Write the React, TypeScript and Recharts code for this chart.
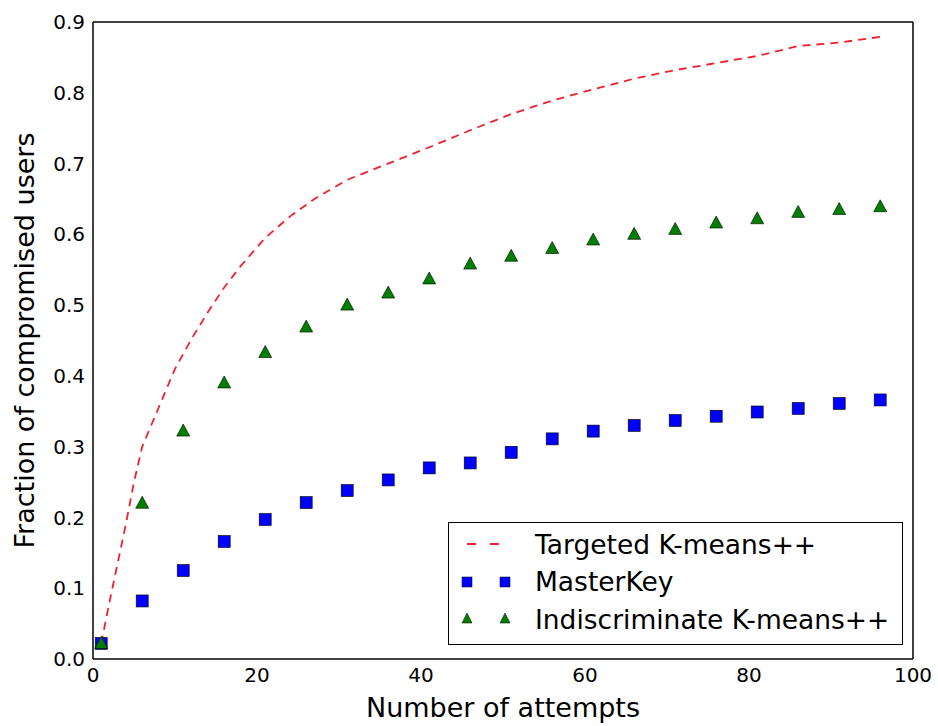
import { ComposedChart, Line, Scatter, XAxis, YAxis } from "recharts"

const attempts = [1, 6, 11, 16, 21, 26, 31, 36, 41, 46, 51, 56, 61, 66, 71, 76, 81, 86, 91, 96]
const masterKey = [
    0.022, 0.082, 0.125, 0.166, 0.197, 0.221, 0.238, 0.253, 0.27, 0.277, 0.292, 0.311, 0.322, 0.33,
    0.337, 0.343, 0.349, 0.354, 0.361, 0.366,
]
const indiscriminate = [
    0.022, 0.22, 0.322, 0.39, 0.433, 0.469, 0.5, 0.517, 0.537, 0.558, 0.569, 0.58, 0.592, 0.6, 0.607,
    0.616, 0.622, 0.631, 0.635, 0.639,
]
const targetedAttempts = [
    1, 2, 3, 4, 5, 6, 8, 10, 12, 14, 16, 18, 21, 24, 27, 31, 36, 41, 46, 51, 56, 61, 66, 71, 76, 81, 86, 91, 96,
]
const targeted = [
    0.022, 0.08, 0.135, 0.19, 0.25, 0.3, 0.355, 0.41, 0.452, 0.49, 0.525, 0.555, 0.595, 0.625, 0.65, 0.677,
    0.7, 0.723, 0.747, 0.77, 0.789, 0.805, 0.82, 0.832, 0.842, 0.852, 0.866, 0.871, 0.879,
]
const xTicks = [0, 20, 40, 60, 80, 100]
const yTicks = [0, 0.1, 0.2, 0.3, 0.4, 0.5, 0.6, 0.7, 0.8, 0.9]
const seriesNames = ["Targeted K-means++", "MasterKey", "Indiscriminate K-means++"]

const FONT = "'DejaVu Sans', sans-serif"
const RED = "#f0202c"
const BLUE = "#0000ff"
const GREEN = "#007f00"

const masterKeyData = attempts.map((x, i) => ({ x, y: masterKey[i] }))
const indiscriminateData = attempts.map((x, i) => ({ x, y: indiscriminate[i] }))
const targetedData = targetedAttempts.map((x, i) => ({ x, y: targeted[i] }))

const Square = (props: any) => {
    const { cx, cy } = props
    return <rect x={cx - 6} y={cy - 6} width={12} height={12} fill={BLUE} stroke="#000" strokeWidth={0.6} />
}

const Triangle = (props: any) => {
    const { cx, cy } = props
    return (
        <path
            d={`M${cx},${cy - 7} L${cx + 6.5},${cy + 5} L${cx - 6.5},${cy + 5} Z`}
            fill={GREEN}
            stroke="#000"
            strokeWidth={0.6}
        />
    )
}

const tickStyle = { fontSize: 20, fill: "#000", fontFamily: FONT }
const labelStyle = { fontSize: 27, fill: "#000", fontFamily: FONT, textAnchor: "middle" as const }
const frameLine = { stroke: "#000", strokeWidth: 1.5 }
const innerTick = { stroke: "#000", strokeWidth: 1.2 }

const LegendBox = () => (
    <div
        style={{
            position: "absolute",
            left: 448,
            top: 522,
            width: 453,
            height: 121,
            border: "1.5px solid #000",
            background: "#fff",
            fontFamily: FONT,
            fontSize: 26.5,
        }}
    >
        {seriesNames.map((name, i) => (
            <div key={name} style={{ position: "absolute", left: 0, top: 6 + i * 37.5, height: 30, display: "flex", alignItems: "center" }}>
                <svg width={80} height={30}>
                    {i === 0 && <line x1={18} y1={15} x2={56} y2={15} stroke={RED} strokeWidth={1.8} strokeDasharray="9 14" />}
                    {i === 1 &&
                        [18, 56].map((cx) => <rect key={cx} x={cx - 5} y={10} width={10} height={10} fill={BLUE} stroke="#000" strokeWidth={0.5} />)}
                    {i === 2 &&
                        [18, 56].map((cx) => (
                            <path key={cx} d={`M${cx},9 L${cx + 5},19 L${cx - 5},19 Z`} fill={GREEN} stroke="#000" strokeWidth={0.5} />
                        ))}
                </svg>
                <span style={{ marginLeft: 6, whiteSpace: "nowrap" }}>{name}</span>
            </div>
        ))}
    </div>
)

const App = () => {
    return (
        <div style={{ position: "absolute", left: 0, top: 0, width: 938, height: 726, background: "#fff" }}>
            <ComposedChart width={938} height={726} margin={{ top: 22, right: 25, left: 18, bottom: 7 }}>
                <XAxis
                    xAxisId="b"
                    type="number"
                    dataKey="x"
                    domain={[0, 100]}
                    ticks={xTicks}
                    allowDataOverflow
                    height={60}
                    tickSize={0}
                    tickMargin={9}
                    tick={tickStyle}
                    axisLine={frameLine}
                    label={{ value: "Number of attempts", position: "insideBottom", offset: 2, style: labelStyle }}
                />
                <XAxis
                    xAxisId="bIn"
                    type="number"
                    dataKey="x"
                    domain={[0, 100]}
                    ticks={xTicks}
                    allowDataOverflow
                    height={20}
                    mirror
                    tick={false}
                    tickSize={8}
                    axisLine={false}
                    tickLine={innerTick}
                />
                <XAxis
                    xAxisId="t"
                    orientation="top"
                    type="number"
                    dataKey="x"
                    domain={[0, 100]}
                    ticks={xTicks}
                    allowDataOverflow
                    height={20}
                    mirror
                    tick={false}
                    tickSize={8}
                    axisLine={frameLine}
                    tickLine={innerTick}
                />
                <YAxis
                    yAxisId="l"
                    type="number"
                    dataKey="y"
                    domain={[0, 0.9]}
                    ticks={yTicks}
                    allowDataOverflow
                    width={75}
                    tickSize={0}
                    tickMargin={8}
                    tick={tickStyle}
                    tickFormatter={(v: number) => v.toFixed(1)}
                    axisLine={frameLine}
                    label={{ value: "Fraction of compromised users", angle: -90, position: "insideLeft", offset: 6, style: labelStyle }}
                />
                <YAxis
                    yAxisId="lIn"
                    type="number"
                    dataKey="y"
                    domain={[0, 0.9]}
                    ticks={yTicks}
                    allowDataOverflow
                    width={20}
                    mirror
                    tick={false}
                    tickSize={8}
                    axisLine={false}
                    tickLine={innerTick}
                />
                <YAxis
                    yAxisId="r"
                    orientation="right"
                    type="number"
                    dataKey="y"
                    domain={[0, 0.9]}
                    ticks={yTicks}
                    allowDataOverflow
                    width={20}
                    mirror
                    tick={false}
                    tickSize={8}
                    axisLine={frameLine}
                    tickLine={innerTick}
                />
                {/* invisible series so the frame axes get rendered */}
                <Line xAxisId="bIn" yAxisId="lIn" data={targetedData} dataKey="y" stroke="none" dot={false} activeDot={false} legendType="none" isAnimationActive={false} />
                <Line xAxisId="t" yAxisId="r" data={targetedData} dataKey="y" stroke="none" dot={false} activeDot={false} legendType="none" isAnimationActive={false} />
                <Line
                    xAxisId="b"
                    yAxisId="l"
                    data={targetedData}
                    dataKey="y"
                    type="linear"
                    stroke={RED}
                    strokeWidth={1.8}
                    strokeDasharray="8 6"
                    dot={false}
                    activeDot={false}
                    isAnimationActive={false}
                    name={seriesNames[0]}
                />
                <Scatter
                    xAxisId="b"
                    yAxisId="l"
                    data={masterKeyData}
                    dataKey="y"
                    shape={Square}
                    isAnimationActive={false}
                    name={seriesNames[1]}
                />
                <Scatter
                    xAxisId="b"
                    yAxisId="l"
                    data={indiscriminateData}
                    dataKey="y"
                    shape={Triangle}
                    isAnimationActive={false}
                    name={seriesNames[2]}
                />
            </ComposedChart>
            <LegendBox />
        </div>
    )
}

export default App
